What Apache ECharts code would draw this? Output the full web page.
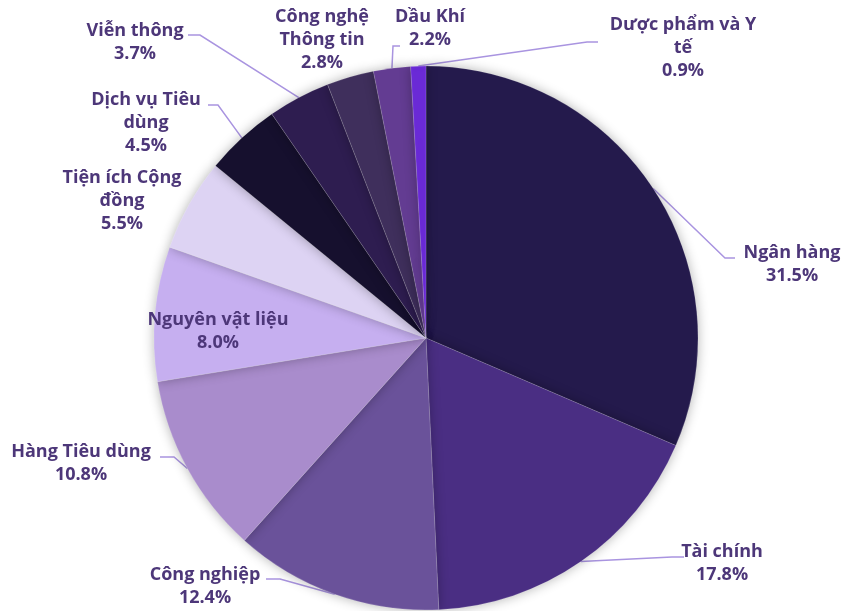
<!DOCTYPE html>
<html>
<head>
<meta charset="utf-8">
<script src="https://cdn.jsdelivr.net/npm/echarts@6/dist/echarts.min.js"></script>
<style>
    html, body { margin: 0; padding: 0; background: #fff; }
    #chart { width: 843px; height: 611px; }
</style>
</head>
<body>
<div id="chart"></div>
<script>
// sectors, clockwise from 12 o'clock
var sectors = [
    'Ngân hàng', 'Tài chính', 'Công nghiệp', 'Hàng Tiêu dùng', 'Nguyên vật liệu',
    'Tiện ích Cộng đồng', 'Dịch vụ Tiêu dùng', 'Viễn thông', 'Công nghệ Thông tin',
    'Dầu Khí', 'Dược phẩm và Y tế'
];
// label text as wrapped in the picture
var labelTexts = [
    'Ngân hàng', 'Tài chính', 'Công nghiệp', 'Hàng Tiêu dùng', 'Nguyên vật liệu',
    'Tiện ích Cộng\nđồng', 'Dịch vụ Tiêu\ndùng', 'Viễn thông', 'Công nghệ\nThông tin',
    'Dầu Khí', 'Dược phẩm và Y\ntế'
];
// share of portfolio, %
var shares = [31.5, 17.8, 12.4, 10.8, 8.0, 5.5, 4.5, 3.7, 2.8, 2.2, 0.9];
var colors = [
    '#241a4c', '#4a2e83', '#6a529a', '#a98ccc', '#c6aff0',
    '#ddd3f3', '#16102e', '#2e1d50', '#3f2f5c', '#633c92', '#6a2ad6'
];

// where each label goes: text centre x, first line y
var labelSpots = [
    [792, 253], [722, 552], [205, 575], [81, 452], [218, 320],
    [122, 178], [146, 100], [135, 31], [322, 17], [430, 17], [683, 25]
];
// guide line end [x, y] and elbow x; null = no guide line
var guideEnds = [
    [735, 258, 725], [684, 557, 672], [266, 579, 280], [160, 457, 174], null,
    null, [208, 105, 218], [188, 35, 200], null, [400, 46, 393], [598, 42, 587]
];

var LINE_H = 23;

var chart = echarts.init(document.getElementById('chart'));

var data = [];
for (var i = 0; i < sectors.length; ++i) {
    var item = {
        name: sectors[i],
        value: shares[i],
        itemStyle: { color: colors[i] }
    };
    if (i === 4) {
        item.label = { position: 'inside' };
    }
    if (!guideEnds[i]) {
        item.labelLine = { show: false };
    }
    data.push(item);
}

chart.setOption({
    animation: false,
    series: [{
        type: 'pie',
        center: [426, 338],
        radius: [0, 272],
        startAngle: 90,
        clockwise: true,
        avoidLabelOverlap: false,
        data: data,
        itemStyle: {
            borderColor: 'rgba(255,255,255,0.25)',
            borderWidth: 0.6,
            shadowBlur: 12,
            shadowColor: 'rgba(0,0,0,0.3)'
        },
        label: {
            color: '#4d3779',
            fontFamily: 'Open Sans',
            fontWeight: 'bold',
            fontSize: 18,
            lineHeight: LINE_H,
            align: 'center',
            formatter: function (p) {
                return labelTexts[p.dataIndex] + '\n' + p.value.toFixed(1) + '%';
            }
        },
        labelLine: {
            length: 20,
            length2: 12,
            lineStyle: { color: '#a994e0', width: 1.5 }
        },
        labelLayout: function (p) {
            var i = p.dataIndex;
            var spot = labelSpots[i];
            var out = {
                x: spot[0],
                y: spot[1] - LINE_H / 2,
                align: 'center',
                verticalAlign: 'top'
            };
            var g = guideEnds[i];
            if (g && p.labelLinePoints) {
                out.labelLinePoints = [
                    p.labelLinePoints[0],
                    [g[2], g[1]],
                    [g[0], g[1]]
                ];
            }
            return out;
        }
    }]
});
</script>
</body>
</html>
